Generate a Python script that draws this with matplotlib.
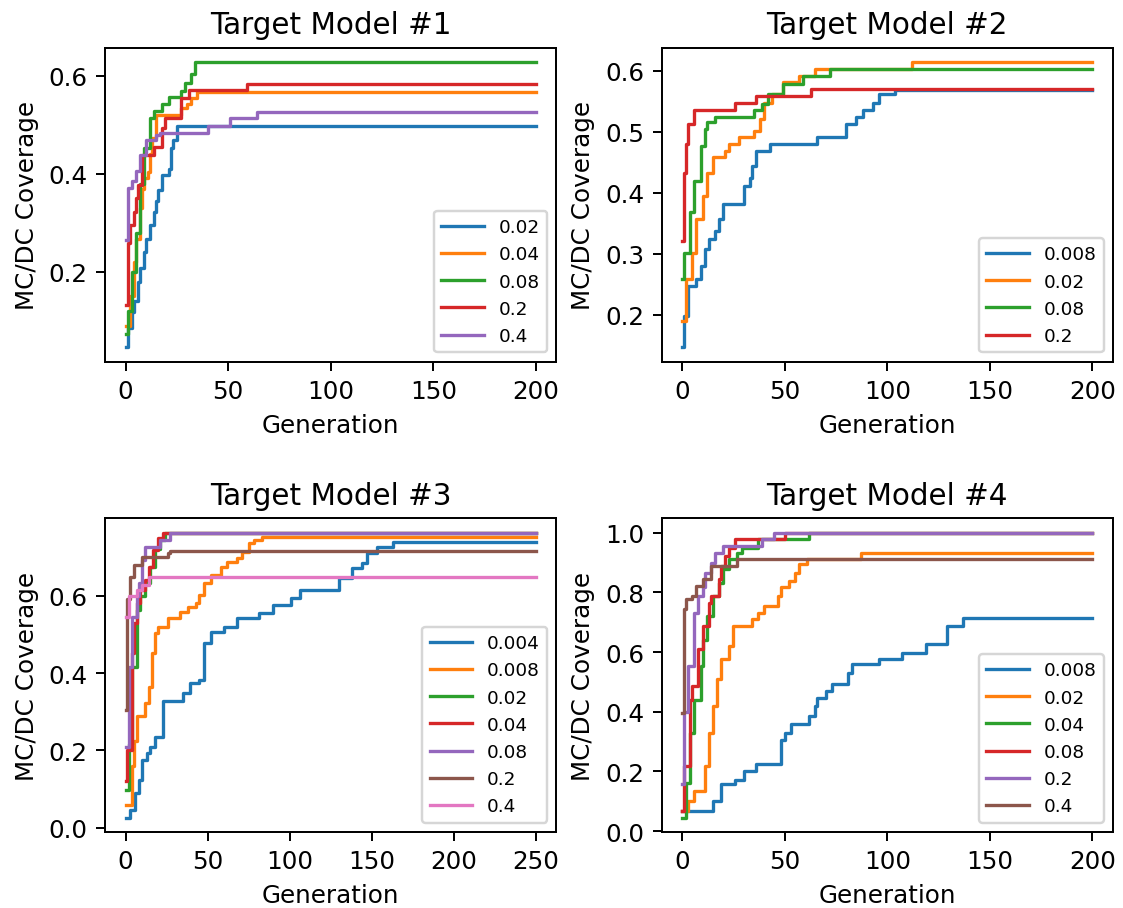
import matplotlib
matplotlib.use("Agg")
import matplotlib.pyplot as plt
import numpy as np

# Step data: (generation, coverage) where the best coverage changes

# Target Model #1 (200 generations)
m1_002 = [(0, .046), (1, .085), (3, .118), (4, .14), (6, .18), (7, .207), (9, .24), (10, .268),
          (12, .295), (14, .323), (15, .345), (16, .368), (18, .398), (21, .41), (22, .453),
          (23, .47), (25, .497)]
m1_004 = [(0, .09), (2, .15), (4, .22), (5, .268), (7, .33), (8, .37), (9, .391), (11, .404),
          (12, .44), (13, .473), (15, .521), (27, .535), (30, .542), (32, .556), (35, .568)]
m1_008 = [(0, .073), (1, .12), (3, .2), (5, .28), (7, .38), (9, .453), (12, .514), (14, .529),
          (18, .542), (21, .557), (27, .569), (29, .586), (32, .603), (34, .628)]
m1_02 = [(0, .132), (1, .26), (2, .296), (4, .323), (5, .35), (6, .378), (8, .439), (14, .456),
         (18, .494), (19, .514), (27, .556), (31, .572), (59, .584)]
m1_04 = [(0, .265), (1, .371), (3, .385), (5, .405), (7, .439), (10, .47), (15, .48), (17, .483),
         (40, .497), (51, .514), (64, .527)]

# Target Model #2 (200 generations)
m2_0008 = [(0, .147), (1, .199), (3, .248), (7, .259), (9, .28), (11, .308), (13, .325), (16, .338),
           (18, .357), (20, .381), (30, .411), (33, .425), (34, .444), (36, .469), (43, .48),
           (66, .491), (80, .513), (85, .524), (88, .536), (93, .548), (96, .562), (104, .569)]
m2_002 = [(0, .19), (2, .259), (5, .302), (7, .357), (10, .395), (12, .433), (15, .458), (21, .469),
          (23, .48), (28, .491), (35, .502), (38, .521), (40, .548), (44, .562), (49, .581),
          (57, .592), (65, .603), (112, .614)]
m2_008 = [(0, .259), (1, .302), (4, .368), (6, .42), (9, .477), (11, .505), (12, .516), (16, .524),
          (35, .535), (39, .546), (42, .562), (49, .578), (59, .592), (72, .603)]
m2_02 = [(0, .321), (1, .433), (2, .48), (3, .513), (6, .536), (26, .547), (36, .558), (63, .57)]

# Target Model #3 (250 generations)
m3_0004 = [(0, .026), (3, .047), (6, .09), (8, .124), (10, .176), (13, .193), (15, .21), (18, .236),
           (23, .327), (35, .348), (39, .374), (45, .383), (48, .477), (52, .507), (60, .52),
           (68, .542), (81, .555), (90, .576), (101, .594), (106, .615), (130, .645), (138, .671),
           (144, .684), (147, .71), (153, .727), (163, .74)]
m3_0008 = [(0, .06), (4, .16), (5, .225), (7, .288), (12, .322), (14, .365), (16, .452), (18, .503),
           (20, .52), (26, .542), (33, .559), (38, .572), (43, .581), (45, .602), (48, .632),
           (52, .654), (58, .675), (62, .688), (68, .697), (71, .714), (75, .735), (78, .744),
           (83, .752)]
m3_002 = [(0, .099), (2, .217), (4, .417), (7, .563), (9, .598), (12, .632), (15, .675), (18, .72),
          (21, .745), (24, .763)]
m3_004 = [(0, .12), (1, .2), (4, .452), (5, .529), (7, .581), (9, .615), (12, .641), (14, .675),
          (17, .718), (20, .748), (23, .763)]
m3_008 = [(0, .21), (2, .417), (4, .546), (7, .598), (8, .632), (10, .692), (12, .727), (21, .744),
          (27, .763)]
m3_02 = [(0, .305), (1, .592), (3, .649), (5, .68), (10, .701), (26, .71), (27, .716)]
m3_04 = [(0, .546), (2, .598), (7, .615), (10, .628), (14, .648)]

# Target Model #4 (200 generations)
m4_0008 = [(0, .067), (15, .1), (19, .157), (26, .173), (30, .201), (36, .224), (48, .307), (50, .328),
           (53, .358), (62, .386), (65, .419), (66, .447), (70, .469), (73, .492), (81, .531),
           (83, .559), (96, .578), (107, .598), (119, .626), (129, .687), (137, .715)]
m4_002 = [(0, .067), (3, .1), (6, .134), (11, .218), (13, .33), (15, .419), (17, .509), (19, .576),
          (23, .62), (25, .687), (34, .71), (37, .732), (40, .754), (47, .788), (48, .817),
          (52, .838), (55, .866), (57, .894), (61, .911), (87, .933)]
m4_004 = [(0, .045), (2, .162), (4, .33), (6, .441), (9, .553), (10, .642), (12, .721), (15, .788),
          (18, .833), (20, .877), (23, .911), (27, .933), (29, .95), (37, .98), (62, 1.0)]
m4_008 = [(0, .067), (1, .218), (4, .441), (5, .486), (8, .609), (10, .687), (13, .766), (14, .788),
          (18, .844), (19, .888), (21, .922), (23, .95), (26, .978), (50, 1.0)]
m4_02 = [(0, .157), (1, .4), (3, .553), (6, .732), (8, .788), (10, .817), (11, .866), (14, .9),
         (16, .933), (20, .955), (39, .978), (45, 1.0)]
m4_04 = [(0, .397), (1, .743), (2, .777), (5, .788), (7, .821), (10, .844), (14, .888), (27, .911)]

titles = ["Target Model #1", "Target Model #2", "Target Model #3", "Target Model #4"]
n_gens = [200, 200, 250, 200]
labels = [
    ["0.02", "0.04", "0.08", "0.2", "0.4"],
    ["0.008", "0.02", "0.08", "0.2"],
    ["0.004", "0.008", "0.02", "0.04", "0.08", "0.2", "0.4"],
    ["0.008", "0.02", "0.04", "0.08", "0.2", "0.4"],
]
series = [
    [m1_002, m1_004, m1_008, m1_02, m1_04],
    [m2_0008, m2_002, m2_008, m2_02],
    [m3_0004, m3_0008, m3_002, m3_004, m3_008, m3_02, m3_04],
    [m4_0008, m4_002, m4_004, m4_008, m4_02, m4_04],
]

DPI = 177
fig, axes = plt.subplots(2, 2, figsize=(1123 / DPI, 909 / DPI), dpi=DPI)
fig.subplots_adjust(left=0.0935, right=0.9911, top=0.9461, bottom=0.0836,
                    wspace=0.2326, hspace=0.5)

for ax, title, n, labs, data in zip(axes.flat, titles, n_gens, labels, series):
    for lab, pts in zip(labs, data):
        g = [p[0] for p in pts] + [n]
        c = [p[1] for p in pts] + [pts[-1][1]]
        ax.step(g, c, where="post", label=lab, linewidth=1.35)
    ax.set_title(title, fontsize=12)
    ax.set_xlabel("Generation")
    ax.set_ylabel("MC/DC Coverage")
    ax.legend(loc="lower right", fontsize=7.5, handlelength=2.3)

fig.savefig("out.png", dpi=DPI)
